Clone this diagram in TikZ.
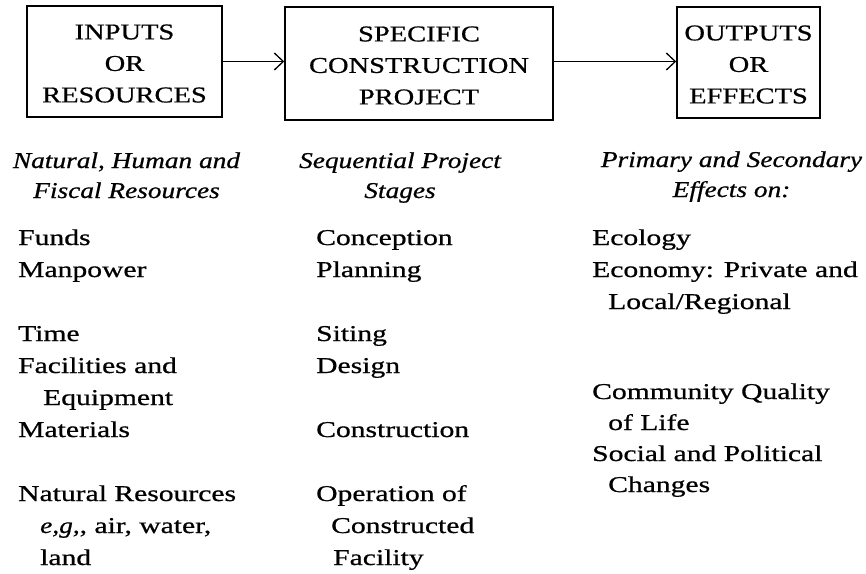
\documentclass[tikz,border=0pt]{standalone}
\usepackage{fontspec}
\setmainfont{Liberation Serif}[
  UprightFeatures={FakeStretch=1.31,FakeBold=0.7},
  ItalicFeatures={FakeStretch=1.21,FakeBold=0.7}]
\newfontfamily\capsfont[FakeStretch=1.26,FakeBold=0.7]{Liberation Serif}
\usetikzlibrary{arrows.meta}
\newcommand{\toprow}{\rule{0pt}{19pt}}
\begin{document}
\begin{tikzpicture}[x=1pt,y=-1pt,
  box/.style={draw,line width=1.5pt,inner sep=0pt,align=center,
    font=\capsfont\fontsize{22.6}{31.5}\selectfont},
  flow/.style={line width=1.3pt,-{Straight Barb[length=9pt,width=17pt,line width=1.3pt]}},
  item/.style={anchor=base west,inner sep=0pt,font=\fontsize{22.6}{31}\selectfont},
  head/.style={anchor=base,inner sep=0pt,font=\itshape\fontsize{22.6}{31}\selectfont}]
\useasboundingbox (0,0) rectangle (866,573);

% the three stages
\node[box,minimum width=195pt,minimum height=111pt] (inputs) at (124.5,61.5)
  {\toprow INPUTS\\OR\\RESOURCES};
\node[box,minimum width=268pt,minimum height=113pt] (project) at (419,63.5)
  {\toprow SPECIFIC\\CONSTRUCTION\\PROJECT};
\node[box,minimum width=143pt,minimum height=111pt] (outputs) at (748.5,62.5)
  {\toprow OUTPUTS\\OR\\EFFECTS};

\draw[flow] (inputs.east) -- (inputs.east -| project.west);
\draw[flow] (project.east |- inputs.east) -- (outputs.west |- inputs.east);

% inputs column
\node[head] (h1a) at (126.5,168) {Natural, Human and};
\node[head] (h1b) at (126.5,198) {Fiscal Resources};
\node[item] (funds) at (18,245) {Funds};
\node[item] (manpower) at (18,277) {Manpower};
\node[item] (time) at (18,341) {Time};
\node[item] (facil) at (18,373) {Facilities and};
\node[item] (equip) at (43,405) {Equipment};
\node[item] (mater) at (18,437) {Materials};
\node[item] (natres) at (18,501) {Natural Resources};
\node[item] (eg) at (40,533) {\textit{e,g,},  air, water,};
\node[item] (land) at (40,565) {land};

% project column
\node[head] (h2a) at (400,168) {Sequential Project};
\node[head] (h2b) at (400,198) {Stages};
\node[item] (concep) at (316,245) {Conception};
\node[item] (plan) at (316,277) {Planning};
\node[item] (siting) at (316,341) {Siting};
\node[item] (design) at (316,373) {Design};
\node[item] (constr) at (316,437) {Construction};
\node[item] (oper) at (316,501) {Operation of};
\node[item] (constd) at (331,533) {Constructed};
\node[item] (facility) at (333,565) {Facility};

% effects column
\node[head] (h3a) at (731.5,167) {Primary and Secondary};
\node[head] (h3b) at (731.5,197) {Effects on:};
\node[item] (ecol) at (592,245) {Ecology};
\node[item] (econ) at (592,277) {Economy: Private and};
\node[item] (local) at (608,309) {Local/Regional};
\node[item] (commu) at (592,399) {Community Quality};
\node[item] (life) at (608,430) {of Life};
\node[item] (social) at (592,461) {Social and Political};
\node[item] (changes) at (608,492) {Changes};
\end{tikzpicture}
\end{document}
